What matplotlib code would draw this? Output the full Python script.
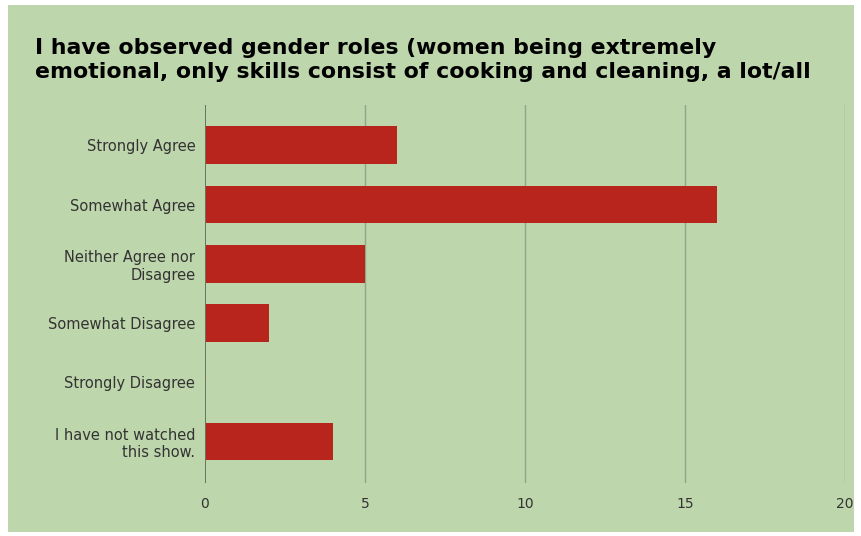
import matplotlib.pyplot as plt
from matplotlib.patches import Rectangle

# survey answers
categories = ["Strongly Agree", "Somewhat Agree", "Neither Agree nor\nDisagree",
              "Somewhat Disagree", "Strongly Disagree", "I have not watched\nthis show."]
counts = [6, 16, 5, 2, 0, 4]
xticks = [0, 5, 10, 15, 20]

title = ("I have observed gender roles (women being extremely\n"
         "emotional, only skills consist of cooking and cleaning, a lot/all")

green = "#bed6ac"
bar_color = "#b8251c"

W, H = 862, 536
fig = plt.figure(figsize=(W / 100, H / 100), dpi=100, facecolor="white")
fig.patches.append(Rectangle((8 / W, 4 / H), (W - 16) / W, (H - 9) / H,
                             transform=fig.transFigure, facecolor=green,
                             edgecolor="none", zorder=-10))

ax = fig.add_axes([205 / W, 1 - 483 / H, 640 / W, (483 - 105) / H])
ax.set_facecolor(green)

ypos = list(range(len(categories)))
ax.barh(ypos, counts, height=0.64, color=bar_color, zorder=3)

ax.set_xlim(0, 20)
ax.set_ylim(5.7, -0.68)
ax.set_xticks(xticks)
ax.set_yticks(ypos)
ax.set_yticklabels(categories, fontsize=10.5, color="#333333", family="DejaVu Sans",
                   linespacing=1.2)
for lab in ax.get_xticklabels():
    lab.set_fontsize(10)
    lab.set_color("#333333")
    lab.set_family("DejaVu Sans")
ax.tick_params(length=0, pad=10)
ax.tick_params(axis="y", pad=7)

for x in xticks[1:]:
    ax.axvline(x, color="#8fa689", lw=1, zorder=1)
ax.axvline(0, color="#66745f", lw=1.4, zorder=4)

for s in ax.spines.values():
    s.set_visible(False)

fig.text(35 / W, 1 - 60 / H, title, fontsize=15.8, fontweight="bold",
         family="DejaVu Sans", va="center", ha="left", linespacing=1.3)

fig.savefig("out.png", dpi=100, facecolor="white")
